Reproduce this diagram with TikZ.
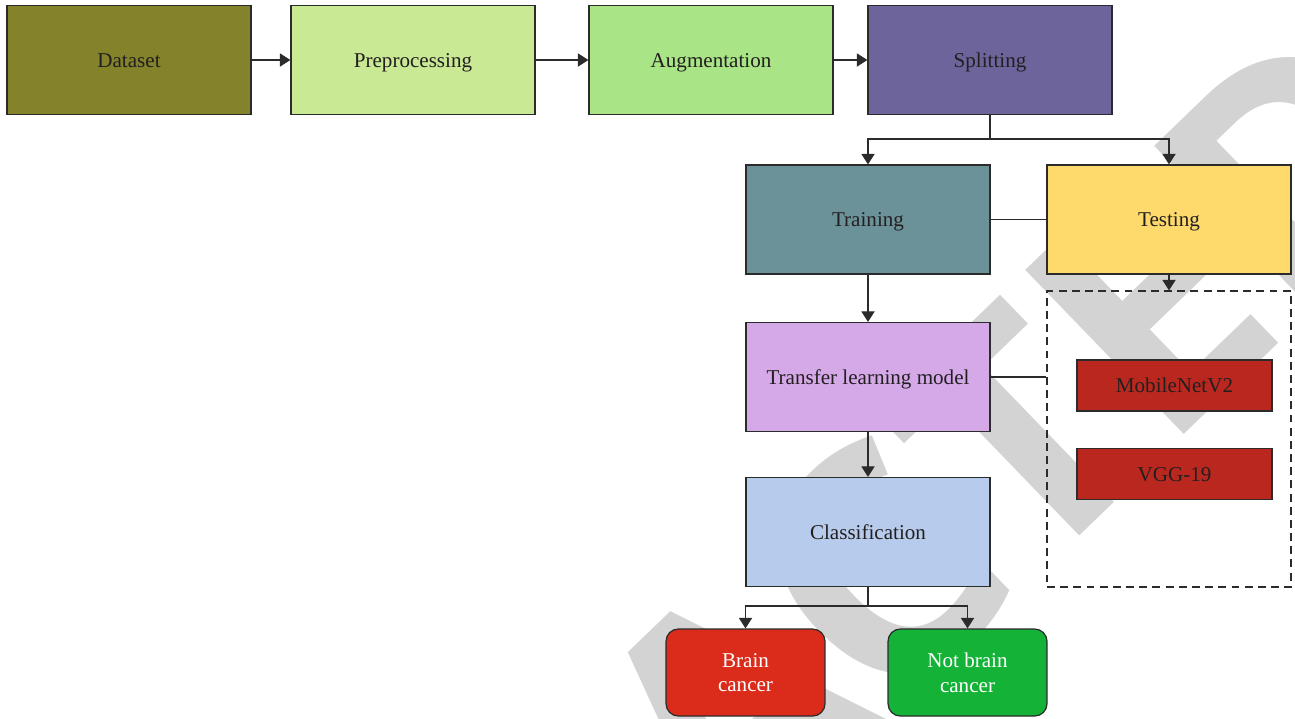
\documentclass[tikz,border=0pt]{standalone}
\usepackage{fontspec}
\setmainfont{Liberation Serif}
\newfontfamily\wmfont{Open Sans}
\usepackage{tikz}
\usepackage{xcolor}
\usetikzlibrary{arrows.meta}

\definecolor{cdata}{HTML}{84822B}
\definecolor{cprep}{HTML}{C9E994}
\definecolor{caug}{HTML}{A9E587}
\definecolor{csplit}{HTML}{6D649C}
\definecolor{ctrain}{HTML}{6B9299}
\definecolor{ctest}{HTML}{FDDA6B}
\definecolor{ctlm}{HTML}{D5A8E8}
\definecolor{ccls}{HTML}{B7CCEC}
\definecolor{cmodel}{HTML}{BA271E}
\definecolor{cbrain}{HTML}{DB2B1A}
\definecolor{cnot}{HTML}{14B338}
\definecolor{wm}{HTML}{D3D3D3}
\definecolor{linec}{HTML}{2B2B2B}
\definecolor{txt}{HTML}{231F20}

\begin{document}
\begin{tikzpicture}[x=0.02cm,y=-0.02cm,
  box/.style={draw=linec,line width=0.7pt,minimum width=4.88cm,minimum height=2.18cm,inner sep=2pt,text height=9pt,text depth=1pt,font=\fontsize{12}{14}\selectfont,text=txt},
  model/.style={box,minimum width=3.9cm,minimum height=1.02cm},
  result/.style={box,text height=,text depth=,rounded corners=7pt,minimum width=3.18cm,minimum height=1.74cm,text=white,align=center},
  link/.style={line width=0.7pt,draw=linec},
  arrow/.style={link,-{Triangle[length=6pt,width=7.5pt]}}]
\useasboundingbox (0,0) rectangle (1295,718);
\begin{scope}
\clip (0,0) rectangle (1295,718);
\node[rotate=44,anchor=base west,inner sep=0,text=wm,font=\wmfont\bfseries\fontsize{182}{182}\selectfont] (mark) at (164,1420) {RETRACTED};
\end{scope}

\node[box,fill=cdata] (data) at (129,60) {Dataset};
\node[box,fill=cprep] (prep) at (413,60) {Preprocessing};
\node[box,fill=caug] (aug) at (711,60) {Augmentation};
\node[box,fill=csplit] (split) at (990,60) {Splitting};
\node[box,fill=ctrain] (train) at (868,219.5) {Training};
\node[box,fill=ctest] (test) at (1169,219.5) {Testing};
\node[draw=linec,line width=0.7pt,dash pattern=on 4.5pt off 3pt,minimum width=4.88cm,minimum height=5.92cm] (models) at (1169,439) {};
\node[box,fill=ctlm] (tlm) at (868,377) {Transfer learning model};
\node[model,fill=cmodel] (mnet) at (1174.5,385.5) {MobileNetV2};
\node[model,fill=cmodel] (vgg) at (1174.5,474) {VGG-19};
\node[box,fill=ccls] (cls) at (868,532) {Classification};
\node[result,fill=cbrain] (brain) at (745.5,672.5) {Brain\\cancer};
\node[result,fill=cnot] (notbrain) at (967.5,672.5) {Not brain\\cancer};

% top row
\draw[arrow] (data) -- (prep);
\draw[arrow] (prep) -- (aug);
\draw[arrow] (aug) -- (split);

% split into training and testing
\coordinate (sp) at (990,139);
\draw[link] (split) -- (sp);
\draw[arrow] (sp) -| (train);
\draw[arrow] (sp) -| (test);
\draw[link] (train) -- (test);
\draw[arrow] (test) -- (models);

\draw[arrow] (train) -- (tlm);
\draw[link] (tlm.east) -- (tlm.east -| models.west);
\draw[arrow] (tlm) -- (cls);

% outcome
\coordinate (cs) at (868,606);
\draw[link] (cls) -- (cs);
\draw[arrow] (cs) -| (brain);
\draw[arrow] (cs) -| (notbrain);
\end{tikzpicture}
\end{document}
